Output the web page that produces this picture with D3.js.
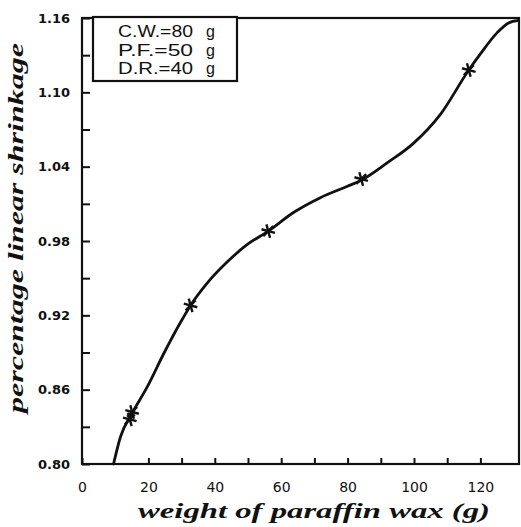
<!DOCTYPE html>
<html><head><meta charset="utf-8">
<script src="https://cdn.jsdelivr.net/npm/d3@7"></script>
<style>body{margin:0;background:#fff}svg{display:block}</style>
</head><body>
<script>
const curveX = [9.5, 11.6, 15.1, 19.6, 24.6, 29.6, 32.7, 37.7, 43.7, 49.7, 56.1, 63.7, 71.8, 79.8, 84.1, 91.9, 99.9, 107.9, 116.5, 120.0, 125.0, 128.5, 131.5];
const curveY = [0.800, 0.822, 0.841, 0.862, 0.889, 0.914, 0.928, 0.946, 0.963, 0.977, 0.988, 1.003, 1.015, 1.024, 1.029, 1.043, 1.059, 1.082, 1.118, 1.131, 1.148, 1.156, 1.158];
// Measured points (asterisks)
const pointX = [15.1, 14.4, 32.7, 56.1, 84.1, 116.5];
const pointY = [0.842, 0.836, 0.928, 0.988, 1.030, 1.118];
// Ticks
const yTicks = [0.80, 0.83, 0.86, 0.89, 0.92, 0.95, 0.98, 1.01, 1.04, 1.07, 1.10, 1.13, 1.16];
const yTickLabels = ["0.80", "", "0.86", "", "0.92", "", "0.98", "", "1.04", "", "1.10", "", "1.16"];
const xTicks = [0, 20, 30, 40, 50, 60, 70, 80, 90, 100, 110, 120];
const xTickLabels = ["0", "20", "", "40", "", "60", "", "80", "", "100", "", "120"];
const legendNames = ["C.W.=80", "P.F.=50", "D.R.=40"];
const legendUnits = ["g", "g", "g"];
const xTitle = "weight of paraffin wax (g)";
const yTitle = "percentage linear shrinkage";

const W = 521, H = 527;
const L = 82, R = 519, T = 18, B = 464;
const svg = d3.select("body").append("svg").attr("width", W).attr("height", H);

const x = d3.scaleLinear().domain([0, (R - L) / 3.32]).range([L, R]);
const y = d3.scaleLinear().domain([0.80, 1.16]).range([B, T]);

// Axes
const yAxis = d3.axisLeft(y).tickValues(yTicks)
  .tickFormat((d, i) => yTickLabels[i]).tickSizeInner(-8).tickSizeOuter(0).tickPadding(12);
const gy = svg.append("g").attr("transform", `translate(${L},0)`).call(yAxis);
gy.select(".domain").remove();
gy.selectAll("line").attr("stroke", "#111").attr("stroke-width", 2);
gy.selectAll("text").attr("font-family", "DejaVu Sans").attr("font-size", 13)
  .attr("font-weight", "bold").attr("fill", "#111");

const xAxis = d3.axisBottom(x).tickValues(xTicks)
  .tickFormat((d, i) => xTickLabels[i]).tickSizeInner(-6).tickSizeOuter(0).tickPadding(18);
const gx = svg.append("g").attr("transform", `translate(0,${B})`).call(xAxis);
gx.select(".domain").remove();
gx.selectAll("line").attr("stroke", "#111").attr("stroke-width", 2);
gx.selectAll("text").attr("font-family", "DejaVu Sans").attr("font-size", 14)
  .attr("fill", "#111");

// Frame
svg.append("rect").attr("x", L).attr("y", T).attr("width", R - L).attr("height", B - T)
  .attr("fill", "none").attr("stroke", "#111").attr("stroke-width", 2.2);

// Curve
const pts = curveX.map((v, i) => [v, curveY[i]]);
const line = d3.line().x(d => x(d[0])).y(d => y(d[1])).curve(d3.curveMonotoneX);
svg.append("path").datum(pts).attr("d", line).attr("fill", "none")
  .attr("stroke", "#111").attr("stroke-width", 2.8).attr("stroke-linecap", "round");

// Asterisk markers
const star = svg.append("g");
pointX.forEach((v, i) => {
  const cx = x(v), cy = y(pointY[i]), r = 7;
  [0, 60, 120].forEach(a => {
    const rad = (a + 15) * Math.PI / 180;
    star.append("line")
      .attr("x1", cx - r * Math.cos(rad)).attr("y1", cy - r * Math.sin(rad))
      .attr("x2", cx + r * Math.cos(rad)).attr("y2", cy + r * Math.sin(rad))
      .attr("stroke", "#111").attr("stroke-width", 2.4);
  });
});

// Legend box
svg.append("rect").attr("x", 93).attr("y", T - 1).attr("width", 144).attr("height", 64)
  .attr("fill", "#fff").attr("stroke", "#111").attr("stroke-width", 2.2);
legendNames.forEach((t, i) => {
  svg.append("text").attr("x", 118).attr("y", 37 + i * 18.5).text(t)
    .attr("font-family", "Liberation Sans").attr("font-size", 16)
    .attr("textLength", 75).attr("lengthAdjust", "spacingAndGlyphs").attr("fill", "#111");
  svg.append("text").attr("x", 206).attr("y", 37 + i * 18.5).text(legendUnits[i])
    .attr("font-family", "Liberation Sans").attr("font-size", 16).attr("fill", "#111");
});

// Titles
svg.append("text").attr("x", 314).attr("y", 518).attr("text-anchor", "middle")
  .attr("font-family", "Liberation Serif").attr("font-style", "italic").attr("font-weight", "bold")
  .attr("font-size", 22).attr("textLength", 352).attr("lengthAdjust", "spacingAndGlyphs")
  .attr("fill", "#111").text(xTitle);
svg.append("text").attr("transform", "translate(23,228) rotate(-90)").attr("text-anchor", "middle")
  .attr("font-family", "Liberation Serif").attr("font-style", "italic").attr("font-weight", "bold")
  .attr("font-size", 22).attr("textLength", 370).attr("lengthAdjust", "spacingAndGlyphs")
  .attr("fill", "#111").text(yTitle);
</script>
</body></html>
